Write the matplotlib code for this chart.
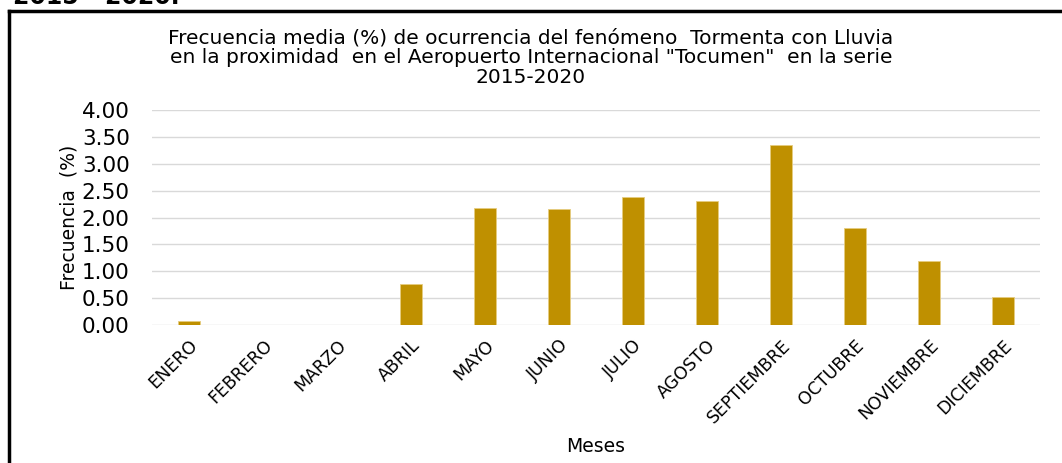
import matplotlib.pyplot as plt
from matplotlib.lines import Line2D

# monthly mean frequency (%) of thunderstorm with rain, Tocumen 2015-2020
meses = ["ENERO", "FEBRERO", "MARZO", "ABRIL", "MAYO", "JUNIO", "JULIO",
         "AGOSTO", "SEPTIEMBRE", "OCTUBRE", "NOVIEMBRE", "DICIEMBRE"]
frecuencia = [0.07, 0.0, 0.0, 0.76, 2.18, 2.16, 2.38, 2.31, 3.35, 1.80, 1.19, 0.52]
yticks = [0, 0.5, 1, 1.5, 2, 2.5, 3, 3.5, 4]

plt.rcParams['font.family'] = ['DejaVu Sans']

fig = plt.figure(figsize=(10.62, 4.63), dpi=100)
ax = fig.add_axes([0.1431, 0.298, 0.8362, 0.4644])

x = range(len(meses))
ax.bar(x, frecuencia, width=0.31, color="#BF9000", edgecolor="#E6CC80",
       linewidth=0.6, zorder=3)

ax.set_xlim(-0.5, len(meses) - 0.5)
ax.set_ylim(0, 4)
ax.set_yticks(yticks)
ax.set_yticklabels([f"{v:.2f}" for v in yticks], fontsize=15.5)
ax.set_xticks(list(x))
ax.set_xticklabels(meses, rotation=45, ha="right", rotation_mode="anchor",
                   fontsize=12.5)
ax.tick_params(length=0, pad=16, axis="y")
ax.tick_params(length=0, pad=8, axis="x")
ax.yaxis.grid(True, color="#D9D9D9", linewidth=1, zorder=0)
for s in ax.spines.values():
    s.set_visible(False)

ax.set_ylabel("Frecuencia  (%)", fontsize=13.5, labelpad=2)
ax.set_xlabel("Meses", fontsize=13.5, labelpad=8)

fig.text(0.5, 0.938,
         "Frecuencia media (%) de ocurrencia del fenómeno  Tormenta con Lluvia\n"
         "en la proximidad  en el Aeropuerto Internacional \"Tocumen\"  en la serie\n"
         "2015-2020", ha="center", va="top", fontsize=14.5, linespacing=1.04)

# cropped caption at the very top and the frame border
fig.text(0.012, 0.992, "2015 - 2020.", fontsize=17, fontweight="bold",
         va="baseline", ha="left")
fig.add_artist(Line2D([9 / 1062, 1], [1 - 11 / 463] * 2, color="black",
                      linewidth=2.5, transform=fig.transFigure))
fig.add_artist(Line2D([9 / 1062] * 2, [0, 1 - 11 / 463], color="black",
                      linewidth=2.5, transform=fig.transFigure))

fig.savefig("out.png", dpi=100)
